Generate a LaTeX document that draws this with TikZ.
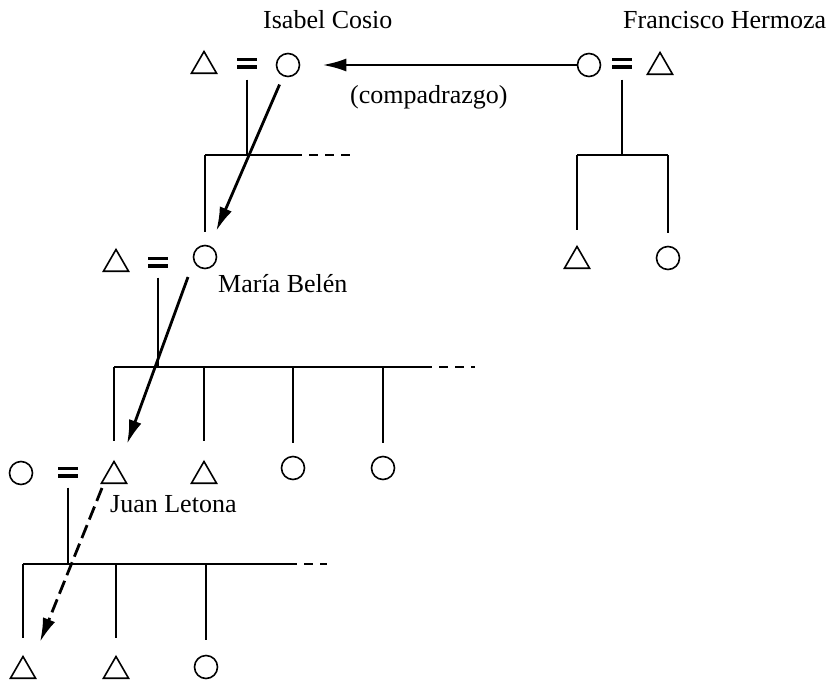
\documentclass[tikz,border=0pt]{standalone}
\usepackage{fontspec}
\setmainfont{Liberation Serif}
\usetikzlibrary{shapes.geometric,arrows.meta,calc}
\begin{document}
\begin{tikzpicture}[x=1pt,y=-1pt,
  tri/.style={regular polygon,regular polygon sides=3,draw,line width=1.6pt,minimum size=29pt,inner sep=0pt},
  circ/.style={circle,draw,line width=1.6pt,minimum size=23pt,inner sep=0pt},
  eqs/.style={minimum width=20pt,minimum height=11pt,inner sep=0pt,path picture={
     \draw[line width=3.6pt] ([yshift=-1.8pt]path picture bounding box.north west) -- ([yshift=-1.8pt]path picture bounding box.north east);
     \draw[line width=3.6pt] ([yshift=1.8pt]path picture bounding box.south west) -- ([yshift=1.8pt]path picture bounding box.south east);}},
  kin/.style={line width=2.2pt},
  tail/.style={line width=2.2pt,dash pattern=on 9pt off 7pt},
  arr/.style={line width=2.8pt,-{Latex[length=24pt,width=13pt]}},
  darr/.style={arr,dash pattern=on 14pt off 6pt},
  lbl/.style={font=\fontsize{26}{30}\selectfont,inner sep=0pt,anchor=base west}]
\useasboundingbox (0,0) rectangle (834,683);

% generation 1
\node[tri] (t1) at (204,66) {};
\node[eqs] (e1) at (247,63) {};
\node[circ] (c1) at (288,65) {};
\node[circ] (c2) at (589,65) {};
\node[eqs] (e2) at (622,63) {};
\node[tri] (t2) at (660,67) {};
% generation 2
\node[tri] (t3) at (577,261) {};
\node[circ] (c4) at (668,258) {};
\node[tri] (t4) at (116,264) {};
\node[eqs] (e3) at (158,262) {};
\node[circ] (c3) at (205,257) {};
% generation 3
\node[circ] (c5) at (21,473) {};
\node[eqs] (e4) at (68,472) {};
\node[tri] (t5) at (114,476) {};
\node[tri] (t6) at (204,476) {};
\node[circ] (c7) at (293,468) {};
\node[circ] (c8) at (383,468) {};
% generation 4
\node[tri] (t7) at (23,671) {};
\node[tri] (t8) at (116,671) {};
\node[circ] (c6) at (206,667) {};

% labels
\node[lbl] (n1) at (263,28) {Isabel Cosio};
\node[lbl] (n2) at (623,28) {Francisco Hermoza};
\node[lbl] (n3) at (350,103) {(compadrazgo)};
\node[lbl] (n4) at (218,292) {María Belén};
\node[lbl] (n5) at (110,512) {Juan Letona};

% junctions
\coordinate (j1) at (247,155);
\coordinate (j1e) at (293,155);
\coordinate (j1d) at (355,155);
\coordinate (j2) at (622,155);
\coordinate (j3) at (158,367);
\coordinate (j3e) at (423,367);
\coordinate (j3d) at (475,367);
\coordinate (j4) at (68,564);
\coordinate (j4e) at (288,564);
\coordinate (j4d) at (327,564);

% Isabel's family
\draw[kin, shorten <=11pt] (e1) -- (j1);
\draw[kin] (c3 |- j1) -- (j1e);
\draw[tail] (j1e) -- (j1d);
\draw[kin, shorten >=13pt] (c3 |- j1) -- (c3);

% Francisco's family
\draw[kin, shorten <=11pt] (e2) -- (j2);
\draw[kin] (t3 |- j2) -- (c4 |- j2);
\draw[kin, shorten >=15pt] (t3 |- j2) -- (t3);
\draw[kin, shorten >=13pt] (c4 |- j2) -- (c4);

% Maria's family
\draw[kin, shorten <=10pt] (e3) -- (j3);
\draw[kin] (t5 |- j3) -- (j3e);
\draw[tail] (j3e) -- (j3d);
\draw[kin, shorten >=19pt] (t5 |- j3) -- (t5);
\draw[kin, shorten >=19pt] (t6 |- j3) -- (t6);
\draw[kin, shorten >=13pt] (c7 |- j3) -- (c7);
\draw[kin, shorten >=13pt] (c8 |- j3) -- (c8);

% Juan's family
\draw[kin, shorten <=10pt] (e4) -- (j4);
\draw[kin] (t7 |- j4) -- (j4e);
\draw[tail] (j4e) -- (j4d);
\draw[kin, shorten >=17pt] (t7 |- j4) -- (t7);
\draw[kin, shorten >=17pt] (t8 |- j4) -- (t8);
\draw[kin, shorten >=15pt] (c6 |- j4) -- (c6);

% arrows
\draw[arr, shorten >=22pt] (c2) -- (c1);
\draw[arr, shorten <=9pt, shorten >=16pt] (c1) -- (c3);
\draw[arr] ($(c3)+(-17,20)$) -- ($(t5)+(13,-32)$);
\draw[darr] ($(t5)+(-12,12)$) -- ($(t7)+(17,-29)$);
\end{tikzpicture}
\end{document}
